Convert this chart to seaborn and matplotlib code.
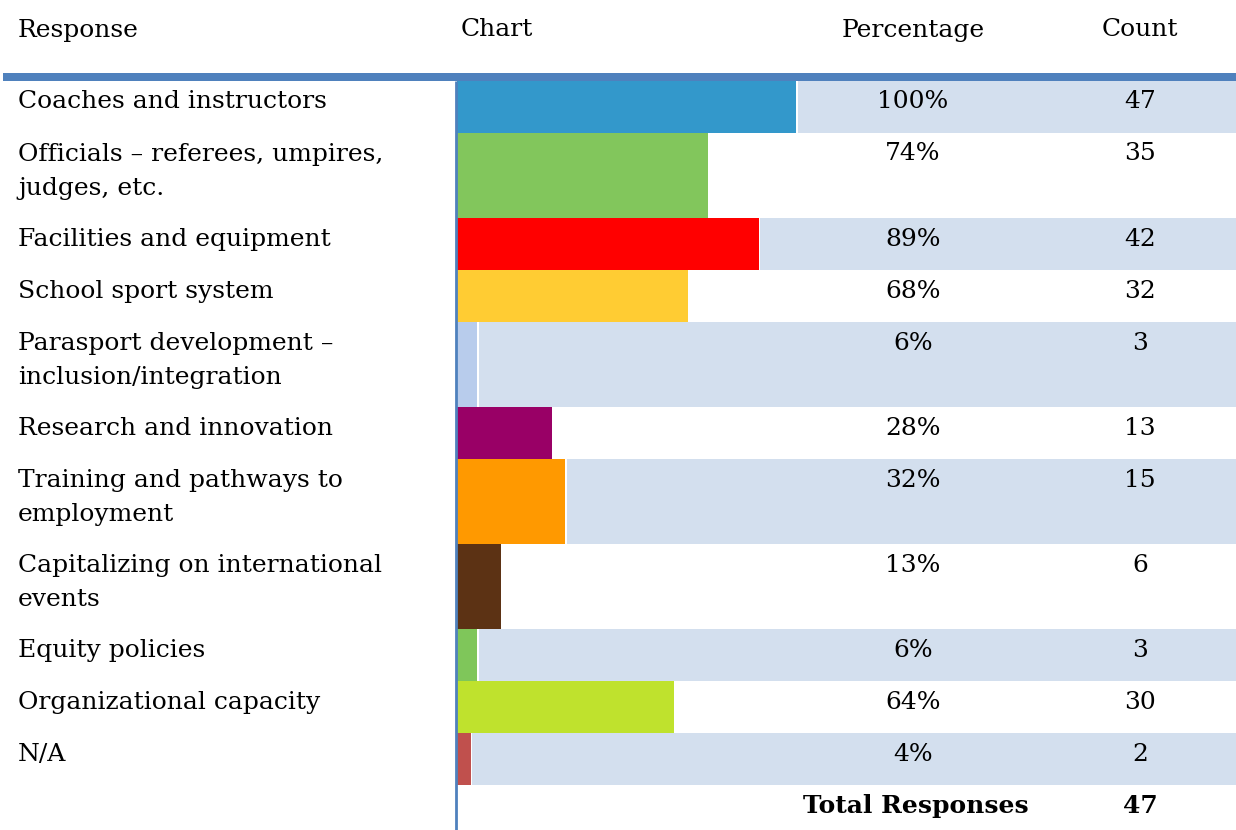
import matplotlib
matplotlib.use("Agg")
import matplotlib.pyplot as plt
import seaborn as sns

# ---- data ----
responses = [
    "Coaches and instructors",
    "Officials – referees, umpires,\njudges, etc.",
    "Facilities and equipment",
    "School sport system",
    "Parasport development –\ninclusion/integration",
    "Research and innovation",
    "Training and pathways to\nemployment",
    "Capitalizing on international\nevents",
    "Equity policies",
    "Organizational capacity",
    "N/A",
]
percentages = [100, 74, 89, 68, 6, 28, 32, 13, 6, 64, 4]
counts = [47, 35, 42, 32, 3, 13, 15, 6, 3, 30, 2]
total_responses = 47
headers = ["Response", "Chart", "Percentage", "Count"]
bar_colors = ["#3398CB", "#82C65C", "#FF0000", "#FFCC33", "#B8CCEC", "#990066",
              "#FF9900", "#5C3214", "#7FC65A", "#BFE22D", "#C0504D"]

# ---- styling ----
sns.set_theme(style="white")
plt.rcParams["font.family"] = ["DejaVu Serif"]
plt.rcParams["text.color"] = "black"
FS = 18
RULE = "#4F81BD"
BAND = "#D3DFEE"

W, H = 1236, 830
fig = plt.figure(figsize=(W / 100, H / 100), dpi=100)

# row geometry (pixels): one- and two-line rows
table_top = 81
single_h, double_h = 52, 85
row_tops, row_hs = [], []
y = table_top
for r in responses:
    h = double_h if "\n" in r else single_h
    row_tops.append(y)
    row_hs.append(h)
    y += h
table_bottom = y

# chart column axes: 100% spans 339 px
chart_left = 457
full_px = 339
ax = fig.add_axes([chart_left / W, (H - table_bottom) / H,
                   (W - chart_left) / W, (table_bottom - table_top) / H])
xmax = 100 * (W - chart_left) / full_px
gap = 100 * 1.5 / full_px

sns.barplot(x=percentages, y=list(range(len(responses))), hue=list(range(len(responses))),
            palette=bar_colors, orient="h", legend=False, ax=ax, width=1.0,
            linewidth=0, saturation=1)
# place each bar on its row band
for p, top, h in zip(list(ax.patches), row_tops, row_hs):
    p.set_y(top)
    p.set_height(h)
    p.set_zorder(3)

# alternating band shading to the right of each bar
for i, (pct, top, h) in enumerate(zip(percentages, row_tops, row_hs)):
    if i % 2 == 0:
        ax.barh(top + h / 2, xmax - pct - gap, left=pct + gap, height=h,
                color=BAND, linewidth=0, zorder=1)

ax.set_xlim(0, xmax)
ax.set_ylim(table_bottom, table_top)
ax.axis("off")

# overlay axes in pixel units for table text and rules (drawn on top)
ov = fig.add_axes([0, 0, 1, 1])
ov.set_xlim(0, W)
ov.set_ylim(H, 0)
ov.axis("off")
ov.set_zorder(10)

# header row
ov.text(18, 30, headers[0], fontsize=FS, va="center", ha="left")
ov.text(461, 30, headers[1], fontsize=FS, va="center", ha="left")
ov.text(913, 30, headers[2], fontsize=FS, va="center", ha="center")
ov.text(1140, 30, headers[3], fontsize=FS, va="center", ha="center")

# rules
ov.add_patch(plt.Rectangle((3, 73), W - 3, 8, color=RULE, lw=0, zorder=5))
ov.plot([456, 456], [81, H], color=RULE, lw=2, zorder=6, solid_capstyle="butt")

# row text
for r, pct, c, top in zip(responses, percentages, counts, row_tops):
    lines = r.split("\n")
    for k, line in enumerate(lines):
        ov.text(18, top + 21 + 34 * k, line, fontsize=FS, va="center", ha="left")
    ov.text(913, top + 21, f"{pct}%", fontsize=FS, va="center", ha="center")
    ov.text(1140, top + 21, str(c), fontsize=FS, va="center", ha="center")

# total row
ov.text(916, table_bottom + 21, "Total Responses", fontsize=FS, fontweight="bold",
        va="center", ha="center")
ov.text(1140, table_bottom + 21, str(total_responses), fontsize=FS, fontweight="bold",
        va="center", ha="center")

fig.savefig("out.png", dpi=100)
